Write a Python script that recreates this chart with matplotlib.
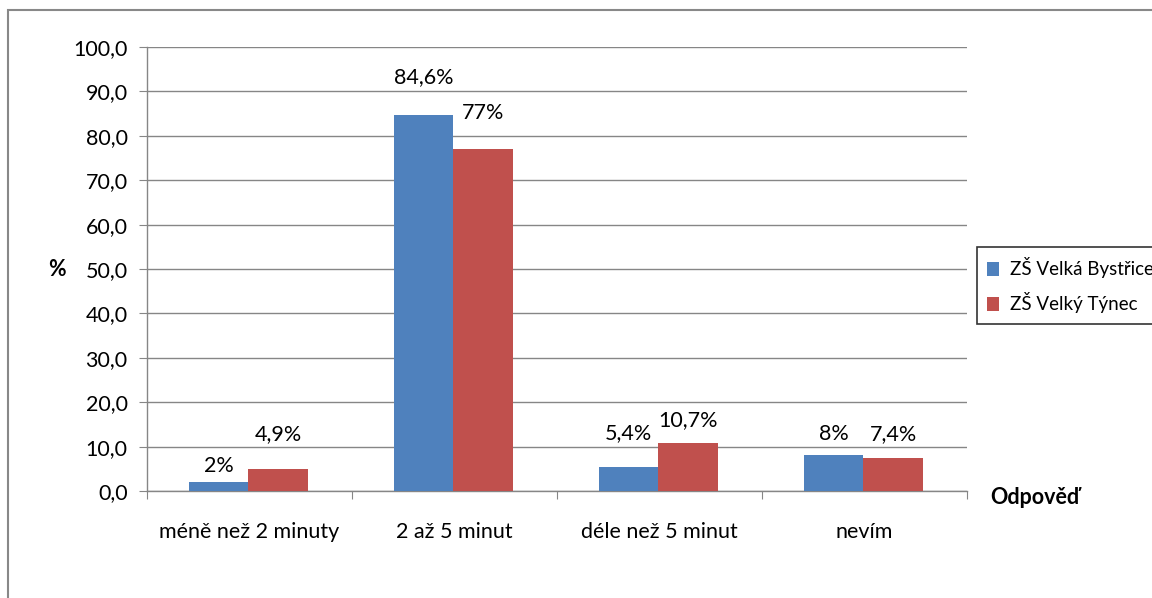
import matplotlib
matplotlib.use("Agg")
import matplotlib.pyplot as plt
import numpy as np
from matplotlib.patches import Rectangle

categories = ["méně než 2 minuty", "2 až 5 minut", "déle než 5 minut", "nevím"]
series_names = ["ZŠ Velká Bystřice", "ZŠ Velký Týnec"]
velka_bystrice = [2.0, 84.6, 5.4, 8.0]
velky_tynec = [4.9, 77.0, 10.7, 7.4]
labels_bystrice = ["2%", "84,6%", "5,4%", "8%"]
labels_tynec = ["4,9%", "77%", "10,7%", "7,4%"]
y_ticks = [0, 10, 20, 30, 40, 50, 60, 70, 80, 90, 100]

# vertical offsets (points) from bar top to the centre of each value label
offs_bystrice = [11.5, 27.4, 24.5, 15.8]
offs_tynec = [25.2, 25.9, 16.6, 17.3]

plt.rcParams['font.family'] = ['Lato', 'DejaVu Sans']
blue = "#4F81BD"
red = "#C0504D"
grid_c = "#868686"
fs = 15.5

fig = plt.figure(figsize=(11.52, 5.98), dpi=100)
ax = fig.add_axes([147/1152, 1-491/598, (967-147)/1152, (491-47)/598])

x = np.arange(len(categories))
w = 0.29
b1 = ax.bar(x - w/2 - 0.005, velka_bystrice, w, color=blue, zorder=3)
b2 = ax.bar(x + w/2 - 0.005, velky_tynec, w, color=red, zorder=3)

for rects, labs, offs in ((b1, labels_bystrice, offs_bystrice), (b2, labels_tynec, offs_tynec)):
    for r, lab, o in zip(rects, labs, offs):
        ax.annotate(lab, (r.get_x() + r.get_width()/2, r.get_height()),
                    xytext=(0, o), textcoords="offset points",
                    ha="center", va="center", fontsize=fs, color="black")

ax.set_xlim(-0.5, len(categories) - 0.5)
ax.set_ylim(0, 100)
ax.set_yticks(y_ticks)
ax.set_yticklabels([f"{v:.1f}".replace(".", ",") for v in y_ticks], fontsize=fs)
ax.yaxis.grid(True, color=grid_c, linewidth=1, zorder=0)
ax.set_axisbelow(True)

ax.set_xticks(np.arange(-0.5, len(categories)), minor=False)
ax.set_xticklabels([])
ax.set_xticks(x, minor=True)
ax.set_xticklabels(categories, minor=True, fontsize=fs)
ax.tick_params(axis="x", which="minor", length=0, pad=22)
ax.tick_params(axis="x", which="major", length=6, color=grid_c, direction="out")
ax.tick_params(axis="y", length=6, color=grid_c, direction="out", pad=8)

for s in ("top", "right"):
    ax.spines[s].set_visible(False)
for s in ("left", "bottom"):
    ax.spines[s].set_color(grid_c)
    ax.spines[s].set_linewidth(1)

fig.text(57/1152, 1-270/598, "%", fontsize=fs, fontweight="bold", ha="center", va="center")
fig.text(990/1152, 1-497/598, "Odpověď", fontsize=fs, fontweight="bold", ha="left", va="center")

# outer chart frame
fig.patches.append(Rectangle((8/1152, -0.2), 1.2, 1 - 10/598 + 0.2, transform=fig.transFigure,
                             fill=False, edgecolor="#888888", linewidth=1.5))

leg = fig.legend([b1, b2], series_names, loc="upper left",
                 bbox_to_anchor=(977/1152, 1-247/598), frameon=True, fontsize=13.5,
                 fancybox=False, edgecolor="black", handlelength=0.6, handleheight=0.8,
                 handletextpad=0.6, borderpad=0.55, labelspacing=0.75, borderaxespad=0)
leg.get_frame().set_linewidth(1.2)

fig.savefig("out.png", dpi=100)
